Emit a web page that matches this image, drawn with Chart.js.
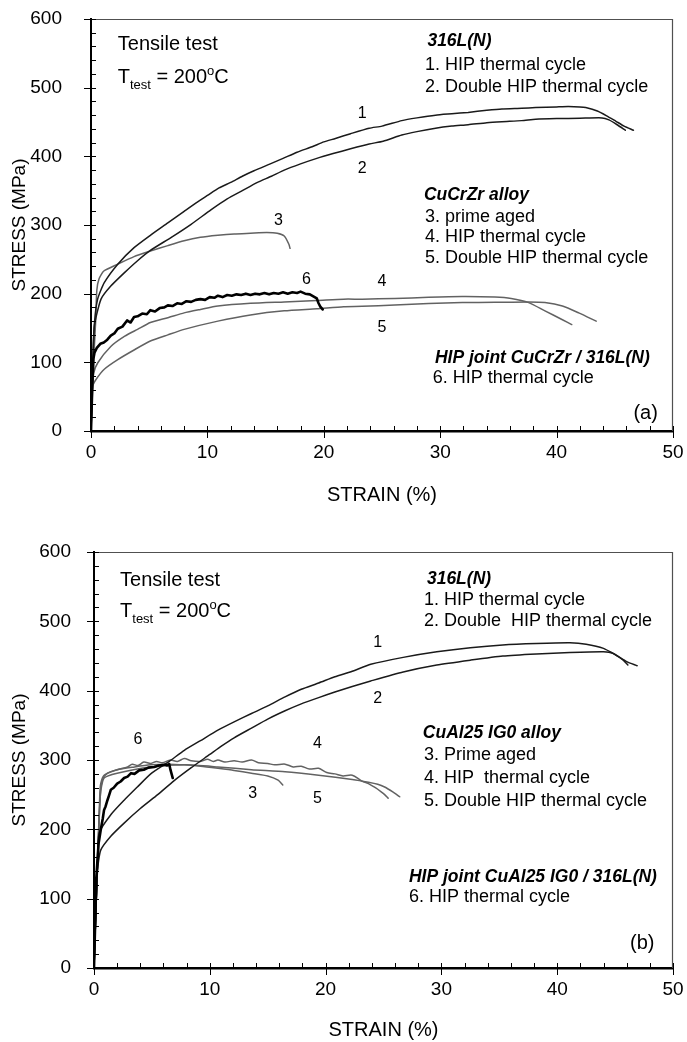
<!DOCTYPE html>
<html>
<head>
<meta charset="utf-8">
<script src="https://cdn.jsdelivr.net/npm/chart.js@4.4.1/dist/chart.umd.min.js"></script>
<style>
  body { margin: 0; background: #fff; }
  canvas { position: absolute; left: 0; }
</style>
</head>
<body>
<canvas id="graficoA" width="687" height="520" style="top:0"></canvas>
<canvas id="graficoB" width="687" height="522" style="top:520px"></canvas>
<script>
const strainTicks = [0, 10, 20, 30, 40, 50];
const stressTicks = [0, 100, 200, 300, 400, 500, 600];

// (a) 316L(N) + CuCrZr
const strainA1 = [0, 0.15, 0.3, 0.57, 1.14, 2.3, 3.7, 5.1, 6.6, 8, 9, 10, 11, 12, 13, 14, 15.4, 16.5, 17.7, 19, 20, 21, 22.3, 23.9, 25, 26.7, 28, 29.6, 31, 32.4, 34, 35.3, 37, 38.2, 40, 41, 42, 42.5, 43.5, 44.3, 45.1, 45.8, 46.6];
const stressA1 = [0, 100, 158, 192, 216, 243, 267, 285, 303, 320, 332, 343, 354, 362, 371, 379, 389, 397, 406, 414, 421, 426, 433, 441, 444, 452, 456, 460, 462, 464, 467, 469, 470, 471, 472, 472.5, 472, 471, 466, 459, 451, 444, 438];
const strainA2 = [0, 0.15, 0.29, 0.86, 1.7, 2.9, 4, 5.1, 6.9, 8.6, 10.3, 11.7, 13, 14.3, 15.5, 16.6, 18, 19.4, 20.8, 22.3, 23.9, 25.1, 26.7, 28, 29.6, 31, 32.4, 34, 35.3, 37, 38.2, 40, 42, 43.9, 44.5, 45.2, 45.9];
const stressA2 = [0, 95, 153, 192, 211, 231, 248, 263, 282, 301, 322, 338, 350, 362, 371, 380, 389, 397, 404, 411, 418, 422, 431, 436, 441, 444, 446, 449, 450.5, 452, 454, 455, 455.5, 456, 453, 446, 438];
const strainA3 = [0, 0.25, 0.4, 0.5, 0.7, 1.1, 2.3, 3.7, 5.1, 6.6, 8, 9.4, 10.9, 12.3, 13.7, 15.1, 16, 16.6, 17, 17.1];
const stressA3 = [0, 110, 160, 205, 222, 233, 243, 254, 262, 270, 277, 282, 285, 287, 288, 289, 288, 284, 272, 266];
const strainA4 = [0, 0.06, 0.23, 0.57, 1.7, 2.9, 4, 5.1, 6.6, 8, 9.4, 10.9, 13.7, 16.6, 19.4, 21.7, 23.3, 26.1, 29, 31.9, 34.7, 36.1, 37.6, 39, 40.5, 41.3];
const stressA4 = [0, 45, 84, 99, 123, 138, 148, 158, 165, 172, 177, 182, 186, 188, 190, 192, 192, 193, 194.7, 195.7, 195, 193, 187, 175, 162, 155];
const strainA5 = [0, 0.14, 0.43, 1.14, 2.3, 3.7, 5.1, 6.6, 8, 10.9, 13.7, 16.6, 19.4, 21.7, 23.3, 26.1, 29, 31.9, 34.7, 37.6, 39, 40.5, 41.9, 43.4];
const stressA5 = [0, 65, 75, 90, 104, 118, 131, 140, 148, 160, 169, 175, 178, 181, 181.5, 183.5, 185.5, 187, 187.4, 187.8, 187, 182, 172, 160];
const strainA6 = [0, 0.1, 0.2, 0.3, 0.5, 0.8, 1.1, 1.4, 1.7, 2.0, 2.3, 2.7, 3.1, 3.4, 3.7, 4.0, 4.4, 4.8, 5.1, 5.5, 5.9, 6.3, 6.6, 7.0, 7.4, 7.8, 8.2, 8.6, 9.0, 9.4, 9.8, 10.2, 10.6, 10.9, 11.3, 11.7, 12.1, 12.5, 12.9, 13.3, 13.7, 14.1, 14.5, 14.9, 15.3, 15.7, 16.1, 16.5, 16.9, 17.3, 17.7, 18.0, 18.4, 18.8, 19.1, 19.4, 19.55, 19.7, 19.9];
const stressA6 = [0, 60, 105, 114, 121, 127, 129, 133, 139, 142, 149, 152, 161, 158, 166, 167, 171, 170, 176, 174, 179, 180, 183, 182, 186, 185, 189, 188, 191, 192, 191, 195, 194, 197, 195, 198, 197, 199, 198, 200, 198, 200, 199, 201, 199, 201, 200, 202, 200, 202, 201, 203, 200, 199, 196, 193, 186, 181, 177];

// (b) 316L(N) + CuAl25 IG0
const strainB1 = [0, 0.3, 0.45, 1.5, 2.6, 3.8, 4.9, 6.5, 7.8, 9.2, 10.7, 12.1, 13.6, 15, 16.5, 17.9, 19.4, 20.8, 22.3, 23.9, 26.7, 29.6, 32.5, 35.3, 38.2, 41.1, 42.5, 44, 45.1, 46, 46.9];
const stressB1 = [0, 150, 195, 222, 242, 262, 280, 298, 314, 328, 343, 355, 367, 378, 391, 402, 411, 420, 428, 438, 448, 456, 462, 466, 468, 469, 467, 461, 451, 442, 436];
const strainB2 = [0, 0.3, 0.58, 1.45, 2.6, 4, 5.5, 6.9, 8.4, 10, 11, 12.1, 13.6, 15, 16.5, 17.9, 19.4, 20.8, 22.3, 23.9, 26.7, 29.6, 32.5, 35.3, 38.2, 41.1, 44, 44.8, 45.7, 46.1];
const stressB2 = [0, 140, 170, 190, 209, 230, 250, 270, 289, 308, 320, 332, 346, 359, 371, 381, 390, 398, 406, 414, 427, 437, 444, 450, 453, 455, 456, 454, 444, 437];
const strainB3 = [0, 0.3, 0.5, 0.58, 0.87, 2, 3.5, 4.9, 6.4, 7.8, 9.2, 10.7, 12.1, 13.6, 15, 15.9, 16.3];
const stressB3 = [0, 150, 250, 266, 278, 286, 290, 293, 294, 293, 291, 288, 285, 281, 277, 271, 264];
const strainB4 = [0, 0.3, 0.55, 0.72, 1.16, 2, 2.9, 3.3, 3.8, 4.3, 4.9, 5.4, 5.9, 6.6, 7.2, 7.8, 8.4, 9.2, 9.8, 10.3, 10.7, 11.3, 12.1, 12.8, 13.6, 14.2, 15, 15.6, 16.5, 17.2, 17.9, 18.6, 19.4, 20.1, 20.8, 21.5, 22.3, 23.1, 23.7, 24.3, 24.8, 25.1, 25.4];
const stressB4 = [0, 150, 250, 271, 281, 286, 290, 294, 292, 297, 295, 298, 296, 300, 298, 302, 299, 298, 301, 298, 300, 297, 299, 297, 300, 296, 295, 293, 294, 290, 291, 287, 288, 282, 280, 277, 278, 270, 266, 260, 254, 250, 245];
const strainB5 = [0, 0.3, 0.55, 0.87, 2, 4.9, 7.8, 10.7, 13.6, 16.5, 19.4, 22.3, 23.7, 24.5, 25.1, 25.8, 26.4];
const stressB5 = [0, 150, 250, 274, 281, 290, 293, 290, 286, 283, 278, 272, 268, 265, 261, 254, 247];
const strainB6 = [0, 0.2, 0.4, 0.58, 0.75, 0.87, 1.0, 1.16, 1.3, 1.45, 1.7, 2.0, 2.3, 2.6, 2.9, 3.2, 3.5, 3.9, 4.3, 4.7, 5.2, 5.6, 6.1, 6.3, 6.5, 6.6, 6.7, 6.8];
const stressB6 = [0, 130, 180, 199, 215, 228, 233, 242, 249, 257, 260, 266, 269, 274, 276, 281, 280, 285, 286, 289, 290, 292, 293, 292, 294, 286, 280, 274];

const FONT = "'Liberation Sans', Arial, sans-serif";
const BLACK = '#1a1a1a';
const GRAY = '#626262';

// [text, strain, stress, size, style, align]
const notesA = [
  ['Tensile test', 2.3, 555, 20],
  ['TTEST', 2.3, 507, 20],
  ['316L(N)', 28.9, 561, 17.5, 'bold italic'],
  ['1. HIP thermal cycle', 28.7, 526, 18],
  ['2. Double HIP thermal cycle', 28.7, 494, 18],
  ['CuCrZr alloy', 28.6, 336, 17.5, 'bold italic'],
  ['3. prime aged', 28.7, 304, 18],
  ['4. HIP thermal cycle', 28.7, 275, 18],
  ['5. Double HIP thermal cycle', 28.7, 245, 18],
  ['HIP joint CuCrZr / 316L(N)', 29.55, 99, 17.5, 'bold italic'],
  ['6. HIP thermal cycle', 29.35, 70, 18],
  ['(a)', 48.7, 17.5, 20, '', 'right']
];
const curveLabelsA = [['1', 23.3, 462], ['2', 23.3, 382], ['3', 16.1, 307], ['4', 25, 217], ['5', 25, 150], ['6', 18.5, 220]];

const notesB = [
  ['Tensile test', 2.25, 551, 20],
  ['TTEST', 2.25, 506, 20],
  ['316L(N)', 28.75, 554, 17.5, 'bold italic'],
  ['1. HIP thermal cycle', 28.5, 524, 18],
  ['2. Double  HIP thermal cycle', 28.5, 493, 18],
  ['CuAl25 IG0 alloy', 28.4, 332, 17.5, 'bold italic'],
  ['3. Prime aged', 28.5, 300, 18],
  ['4. HIP  thermal cycle', 28.5, 267, 18],
  ['5. Double HIP thermal cycle', 28.5, 234, 18],
  ['HIP joint CuAl25 IG0 / 316L(N)', 27.2, 124, 17.5, 'bold italic'],
  ['6. HIP thermal cycle', 27.2, 95, 18],
  ['(b)', 48.4, 27, 20, '', 'right']
];
const curveLabelsB = [['1', 24.5, 470], ['2', 24.5, 388], ['3', 13.7, 252], ['4', 19.3, 323], ['5', 19.3, 245], ['6', 3.8, 329]];

function serie(strain, stress, cor, largura, ordem, tensao) {
  return {
    data: strain.map((s, i) => ({ x: s, y: stress[i] })),
    borderColor: cor, borderWidth: largura, order: ordem, tension: tensao,
    pointRadius: 0, fill: false, borderJoinStyle: 'round', borderCapStyle: 'round'
  };
}

function drawTtest(ctx, px, py) {
  const parts = [['T', 20, 0], ['test', 13, 6], [' = 200', 20, 0], ['o', 13, -8], ['C', 20, 0]];
  let cx = px;
  for (const [t, s, dy] of parts) {
    ctx.font = s + 'px ' + FONT;
    ctx.fillText(t, cx, py + dy);
    cx += ctx.measureText(t).width;
  }
}

const moldura = {
  id: 'moldura',
  afterDatasetsDraw(chart, args, opts) {
    const { ctx, chartArea: a, scales: { x, y } } = chart;
    ctx.save();
    ctx.strokeStyle = '#505050';
    ctx.lineWidth = 1.2;
    ctx.beginPath();
    ctx.moveTo(a.left, a.top + 0.5);
    ctx.lineTo(a.right - 0.5, a.top + 0.5);
    ctx.lineTo(a.right - 0.5, a.bottom);
    ctx.stroke();

    ctx.strokeStyle = '#000';
    ctx.lineWidth = 1;
    ctx.beginPath();
    for (let v = 0; v <= 600; v += 20) {
      const py = Math.round(y.getPixelForValue(v)) + 0.5;
      ctx.moveTo(a.left - (v % 100 ? 0 : 7), py);
      ctx.lineTo(a.left + 5, py);
    }
    for (let v = 0; v <= 50; v += 2) {
      const px = Math.round(x.getPixelForValue(v)) + 0.5;
      ctx.moveTo(px, a.bottom - 5);
      ctx.lineTo(px, a.bottom + (v % 10 ? 0 : 7));
    }
    ctx.stroke();

    ctx.fillStyle = '#000';
    ctx.textBaseline = 'alphabetic';
    for (const [t, sx, sy, size, style, align] of opts.notes) {
      const px = x.getPixelForValue(sx), py = y.getPixelForValue(sy);
      ctx.textAlign = align || 'left';
      if (t === 'TTEST') { drawTtest(ctx, px, py); continue; }
      ctx.font = (style ? style + ' ' : '') + size + 'px ' + FONT;
      ctx.fillText(t, px, py);
    }
    ctx.textAlign = 'center';
    ctx.textBaseline = 'middle';
    ctx.font = '16px ' + FONT;
    for (const [t, sx, sy] of opts.labels) {
      ctx.fillText(t, x.getPixelForValue(sx), y.getPixelForValue(sy));
    }
    ctx.restore();
  }
};

function opcoes(notes, labels, pad, yW, xH, yTickGap, xTitlePad) {
  return {
    responsive: false,
    animation: false,
    layout: { padding: pad },
    plugins: { legend: { display: false }, tooltip: { enabled: false }, moldura: { notes, labels } },
    scales: {
      x: {
        type: 'linear', min: 0, max: 50,
        afterBuildTicks: s => { s.ticks = strainTicks.map(v => ({ value: v })); },
        afterFit: s => { s.height = xH; },
        grid: { display: false, drawTicks: true, tickLength: 10 },
        border: { display: true, color: '#000', width: 2.5 },
        ticks: { color: '#000', padding: 0, maxRotation: 0, font: { family: FONT, size: 19 } },
        title: { display: true, text: 'STRAIN (%)', color: '#000', font: { family: FONT, size: 20 }, padding: { top: 0, bottom: xTitlePad } }
      },
      y: {
        type: 'linear', min: 0, max: 600,
        afterBuildTicks: s => { s.ticks = stressTicks.map(v => ({ value: v })); },
        afterFit: s => { s.width = yW; },
        grid: { display: false, drawTicks: true, tickLength: yTickGap },
        border: { display: true, color: '#000', width: 2 },
        ticks: { color: '#000', padding: 0, font: { family: FONT, size: 19 } },
        title: { display: true, text: 'STRESS (MPa)', color: '#000', font: { family: FONT, size: 19 }, padding: { top: 8, bottom: 0 } }
      }
    }
  };
}

document.addEventListener("DOMContentLoaded", () => {
  new Chart(document.getElementById("graficoA"), {
    type: 'line',
    data: {
      datasets: [
        serie(strainA6, stressA6, '#000', 2.6, 1, 0),
        serie(strainA1, stressA1, BLACK, 1.5, 2, 0.2),
        serie(strainA2, stressA2, BLACK, 1.5, 2, 0.2),
        serie(strainA3, stressA3, GRAY, 1.5, 3, 0.2),
        serie(strainA4, stressA4, GRAY, 1.5, 3, 0.2),
        serie(strainA5, stressA5, GRAY, 1.5, 3, 0.2)
      ]
    },
    options: opcoes(notesA, curveLabelsA, { left: 0, top: 19, right: 14, bottom: 0 }, 91, 89, 29, 13),
    plugins: [moldura]
  });

  new Chart(document.getElementById("graficoB"), {
    type: 'line',
    data: {
      datasets: [
        serie(strainB6, stressB6, '#000', 2.6, 1, 0),
        serie(strainB1, stressB1, BLACK, 1.5, 2, 0.2),
        serie(strainB2, stressB2, BLACK, 1.5, 2, 0.2),
        serie(strainB3, stressB3, GRAY, 1.5, 3, 0.2),
        serie(strainB4, stressB4, GRAY, 1.5, 3, 0.3),
        serie(strainB5, stressB5, GRAY, 1.5, 3, 0.2)
      ]
    },
    options: opcoes(notesB, curveLabelsB, { left: 0, top: 32, right: 14, bottom: 0 }, 94, 74, 23, 0),
    plugins: [moldura]
  });
});
</script>
</body>
</html>
